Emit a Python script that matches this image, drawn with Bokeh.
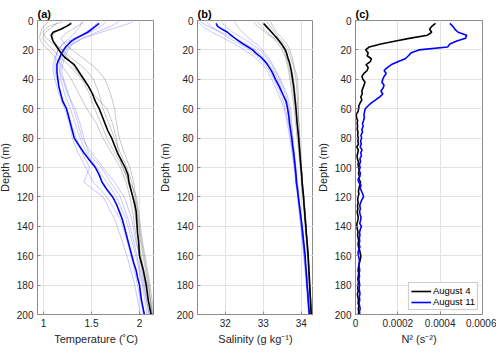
from bokeh.plotting import figure
from bokeh.layouts import row
from bokeh.models import Range1d, FixedTicker, Legend, LegendItem
from bokeh.embed import file_html
from bokeh.resources import INLINE

# ---------------- data ----------------
DEPTH_MEAN = [2, 4, 6, 8, 10, 12, 14, 16, 18, 20, 22, 25, 28, 30, 35, 40, 45, 50, 55, 60,
              65, 70, 75, 80, 85, 90, 95, 100, 105, 110, 115, 120, 125, 130, 135, 140,
              145, 150, 155, 160, 165, 170, 175, 180, 185, 190, 195, 200]

TEMP_AUG4 = [1.29, 1.24, 1.18, 1.10, 1.08, 1.09, 1.10, 1.12, 1.14, 1.16, 1.18, 1.22, 1.28, 1.32,
             1.37, 1.42, 1.47, 1.51, 1.54, 1.58, 1.61, 1.64, 1.67, 1.71, 1.74, 1.77, 1.81, 1.85,
             1.88, 1.89, 1.91, 1.93, 1.95, 1.965, 1.97, 1.975, 1.98, 1.99, 1.995, 2.0, 2.02,
             2.04, 2.055, 2.07, 2.08, 2.09, 2.105, 2.12]
TEMP_AUG11 = [1.58, 1.54, 1.50, 1.46, 1.40, 1.34, 1.29, 1.26, 1.23, 1.21, 1.19, 1.17, 1.15, 1.14,
              1.14, 1.15, 1.16, 1.18, 1.20, 1.24, 1.26, 1.28, 1.30, 1.32, 1.37, 1.42, 1.48, 1.54,
              1.58, 1.61, 1.66, 1.72, 1.76, 1.79, 1.82, 1.84, 1.86, 1.88, 1.90, 1.92, 1.94,
              1.965, 1.98, 2.0, 2.01, 2.02, 2.035, 2.05]
SAL_AUG4 = [33.01, 33.08, 33.15, 33.22, 33.29, 33.36, 33.42, 33.48, 33.53, 33.58, 33.61, 33.64,
            33.68, 33.70, 33.74, 33.77, 33.80, 33.82, 33.84, 33.86, 33.875, 33.89, 33.91, 33.93,
            33.945, 33.96, 33.975, 33.99, 34.01, 34.02, 34.04, 34.06, 34.07, 34.09, 34.10, 34.12,
            34.13, 34.15, 34.165, 34.18, 34.19, 34.20, 34.21, 34.22, 34.23, 34.24, 34.25, 34.26]
SAL_AUG11 = [31.76, 31.80, 31.92, 32.06, 32.15, 32.25, 32.36, 32.47, 32.60, 32.72, 32.80, 32.94,
             33.05, 33.11, 33.23, 33.32, 33.42, 33.51, 33.60, 33.64, 33.67, 33.69, 33.72, 33.75,
             33.77, 33.80, 33.82, 33.84, 33.86, 33.87, 33.90, 33.92, 33.945, 33.97, 33.995, 34.02,
             34.04, 34.06, 34.08, 34.10, 34.11, 34.125, 34.14, 34.15, 34.17, 34.18, 34.195, 34.21]

DEPTH_IND = [1, 4, 8, 12, 16, 20, 25, 30, 35, 40, 50, 60, 70, 80, 90, 100, 110, 120, 135, 150,
             165, 180, 200]

TEMP_CASTS_AUG4 = [
    [1.05, 1.00, 0.97, 0.96, 0.99, 1.05, 1.12, 1.18, 1.24, 1.29, 1.37, 1.45, 1.55, 1.62, 1.71, 1.80, 1.86, 1.90, 1.94, 1.97, 2.01, 2.05, 2.10],
    [1.15, 1.10, 1.02, 0.99, 1.04, 1.10, 1.17, 1.26, 1.33, 1.40, 1.48, 1.53, 1.60, 1.66, 1.74, 1.83, 1.88, 1.93, 1.96, 1.99, 2.03, 2.08, 2.13],
    [1.30, 1.22, 1.12, 1.08, 1.12, 1.20, 1.28, 1.38, 1.46, 1.52, 1.58, 1.62, 1.68, 1.74, 1.80, 1.87, 1.92, 1.95, 1.98, 2.01, 2.05, 2.09, 2.14],
    [1.42, 1.35, 1.25, 1.18, 1.22, 1.30, 1.40, 1.50, 1.58, 1.64, 1.70, 1.74, 1.76, 1.79, 1.84, 1.90, 1.94, 1.96, 1.99, 2.02, 2.06, 2.10, 2.13],
    [1.20, 1.05, 0.99, 1.03, 1.10, 1.18, 1.25, 1.30, 1.35, 1.42, 1.52, 1.66, 1.72, 1.76, 1.78, 1.82, 1.90, 1.97, 2.00, 2.03, 2.07, 2.11, 2.15],
]
TEMP_CASTS_AUG11 = [
    [1.93, 1.80, 1.60, 1.42, 1.30, 1.24, 1.20, 1.18, 1.17, 1.18, 1.22, 1.28, 1.33, 1.38, 1.45, 1.55, 1.66, 1.76, 1.86, 1.92, 1.98, 2.03, 2.08],
    [1.65, 1.60, 1.48, 1.32, 1.20, 1.15, 1.12, 1.10, 1.10, 1.12, 1.16, 1.22, 1.27, 1.30, 1.36, 1.44, 1.52, 1.66, 1.80, 1.87, 1.93, 1.98, 2.04],
    [1.57, 1.52, 1.44, 1.36, 1.28, 1.22, 1.18, 1.16, 1.17, 1.20, 1.25, 1.33, 1.38, 1.42, 1.47, 1.60, 1.70, 1.80, 1.88, 1.94, 1.99, 2.04, 2.10],
    [1.40, 1.38, 1.33, 1.27, 1.20, 1.15, 1.13, 1.12, 1.12, 1.14, 1.18, 1.24, 1.29, 1.34, 1.40, 1.48, 1.42, 1.62, 1.74, 1.82, 1.89, 1.95, 2.01],
    [1.78, 1.70, 1.55, 1.40, 1.30, 1.26, 1.22, 1.20, 1.19, 1.21, 1.26, 1.31, 1.36, 1.40, 1.50, 1.62, 1.74, 1.84, 1.92, 1.96, 2.02, 2.06, 2.12],
]
SAL_CASTS_AUG4 = [
    [32.75, 32.85, 33.05, 33.25, 33.40, 33.50, 33.58, 33.63, 33.67, 33.70, 33.76, 33.81, 33.85, 33.89, 33.93, 33.97, 34.00, 34.04, 34.09, 34.14, 34.18, 34.21, 34.25],
    [33.10, 33.18, 33.30, 33.42, 33.55, 33.65, 33.72, 33.78, 33.82, 33.86, 33.89, 33.91, 33.93, 33.95, 33.97, 34.00, 34.03, 34.06, 34.11, 34.15, 34.19, 34.22, 34.27],
    [32.95, 33.05, 33.20, 33.35, 33.48, 33.58, 33.66, 33.72, 33.76, 33.80, 33.84, 33.87, 33.90, 33.93, 33.96, 33.99, 34.02, 34.05, 34.10, 34.15, 34.19, 34.22, 34.26],
    [33.20, 33.25, 33.35, 33.50, 33.62, 33.70, 33.76, 33.80, 33.85, 33.90, 33.92, 33.92, 33.94, 33.96, 33.98, 34.01, 34.03, 34.07, 34.12, 34.16, 34.20, 34.23, 34.28],
    [32.85, 32.95, 33.10, 33.28, 33.45, 33.55, 33.60, 33.66, 33.70, 33.74, 33.79, 33.84, 33.88, 33.92, 33.95, 33.98, 34.01, 34.04, 34.08, 34.13, 34.17, 34.21, 34.25],
]
SAL_CASTS_AUG11 = [
    [31.28, 31.40, 31.65, 31.95, 32.25, 32.50, 32.78, 32.98, 33.12, 33.22, 33.40, 33.55, 33.63, 33.70, 33.76, 33.81, 33.85, 33.90, 33.96, 34.03, 34.09, 34.14, 34.20],
    [31.35, 31.55, 31.90, 32.25, 32.55, 32.80, 33.00, 33.15, 33.28, 33.38, 33.52, 33.63, 33.69, 33.74, 33.78, 33.83, 33.87, 33.92, 33.98, 34.04, 34.10, 34.15, 34.21],
    [31.90, 32.00, 32.20, 32.45, 32.70, 32.90, 33.08, 33.22, 33.32, 33.42, 33.58, 33.68, 33.72, 33.76, 33.80, 33.85, 33.89, 33.93, 33.99, 34.05, 34.11, 34.16, 34.22],
    [32.25, 32.32, 32.45, 32.62, 32.82, 32.98, 33.12, 33.25, 33.35, 33.45, 33.62, 33.72, 33.75, 33.78, 33.82, 33.86, 33.90, 33.94, 34.00, 34.06, 34.12, 34.17, 34.22],
    [31.50, 31.62, 31.85, 32.10, 32.38, 32.62, 32.88, 33.05, 33.18, 33.28, 33.46, 33.58, 33.66, 33.72, 33.77, 33.82, 33.86, 33.91, 33.97, 34.03, 34.08, 34.13, 34.19],
]

DEPTH_N2 = list(range(2, 201, 2))
N2_AUG4 = [
    3.78e-4, 3.60e-4, 3.50e-4, 3.60e-4, 3.40e-4, 2.60e-4, 1.90e-4, 1.20e-4, 0.65e-4, 0.48e-4,
    0.60e-4, 0.55e-4, 0.75e-4, 0.70e-4, 0.50e-4, 0.60e-4, 0.55e-4, 0.40e-4, 0.30e-4, 0.35e-4,
    0.45e-4, 0.40e-4, 0.35e-4, 0.30e-4, 0.32e-4, 0.25e-4, 0.30e-4, 0.22e-4, 0.16e-4, 0.15e-4,
    0.12e-4, 0.03e-4, 0.05e-4, 0.10e-4, 0.08e-4, 0.10e-4, 0.08e-4, 0.12e-4, 0.10e-4, 0.13e-4,
    0.11e-4, 0.14e-4, 0.06e-4, 0.13e-4, 0.11e-4, 0.07e-4, 0.09e-4, 0.14e-4, 0.12e-4, 0.15e-4,
    0.18e-4, 0.14e-4, 0.19e-4, 0.16e-4, 0.24e-4, 0.20e-4, 0.17e-4, 0.14e-4, 0.16e-4, 0.12e-4,
    0.10e-4, 0.13e-4, 0.09e-4, 0.11e-4, 0.08e-4, 0.10e-4, 0.13e-4, 0.11e-4, 0.07e-4, 0.06e-4,
    0.09e-4, 0.12e-4, 0.10e-4, 0.13e-4, 0.15e-4, 0.12e-4, 0.14e-4, 0.19e-4, 0.22e-4, 0.25e-4,
    0.24e-4, 0.20e-4, 0.16e-4, 0.14e-4, 0.12e-4, 0.15e-4, 0.13e-4, 0.11e-4, 0.14e-4, 0.12e-4,
    0.10e-4, 0.13e-4, 0.09e-4, 0.11e-4, 0.14e-4, 0.12e-4, 0.16e-4, 0.13e-4, 0.15e-4, 0.14e-4,
]
N2_AUG11 = [
    4.46e-4, 4.60e-4, 4.70e-4, 4.85e-4, 5.25e-4, 5.20e-4, 4.78e-4, 4.46e-4, 4.35e-4, 3.00e-4,
    2.63e-4, 2.50e-4, 2.35e-4, 2.00e-4, 1.70e-4, 1.50e-4, 1.35e-4, 1.45e-4, 1.35e-4, 1.29e-4,
    1.25e-4, 1.35e-4, 1.30e-4, 1.20e-4, 1.29e-4, 1.15e-4, 0.95e-4, 0.75e-4, 0.60e-4, 0.46e-4,
    0.43e-4, 0.40e-4, 0.42e-4, 0.38e-4, 0.33e-4, 0.36e-4, 0.30e-4, 0.33e-4, 0.26e-4, 0.29e-4,
    0.24e-4, 0.27e-4, 0.22e-4, 0.31e-4, 0.25e-4, 0.28e-4, 0.21e-4, 0.24e-4, 0.18e-4, 0.22e-4,
    0.17e-4, 0.23e-4, 0.20e-4, 0.12e-4, 0.15e-4, 0.26e-4, 0.22e-4, 0.28e-4, 0.34e-4, 0.38e-4,
    0.30e-4, 0.24e-4, 0.20e-4, 0.23e-4, 0.19e-4, 0.22e-4, 0.26e-4, 0.24e-4, 0.20e-4, 0.28e-4,
    0.23e-4, 0.19e-4, 0.21e-4, 0.18e-4, 0.20e-4, 0.17e-4, 0.21e-4, 0.15e-4, 0.12e-4, 0.14e-4,
    0.17e-4, 0.19e-4, 0.16e-4, 0.18e-4, 0.20e-4, 0.17e-4, 0.19e-4, 0.16e-4, 0.18e-4, 0.20e-4,
    0.17e-4, 0.19e-4, 0.21e-4, 0.18e-4, 0.20e-4, 0.17e-4, 0.19e-4, 0.22e-4, 0.19e-4, 0.20e-4,
]

DEPTH_TICKS = [0, 20, 40, 60, 80, 100, 120, 140, 160, 180, 200]
TEMP_TICKS = [1, 1.5, 2]
SAL_TICKS = [32, 33, 34]
N2_TICKS = [0, 0.0002, 0.0004, 0.0006]
N2_TICK_LABELS = {0: "0", 0.0002: "0.0002", 0.0004: "0.0004", 0.0006: "0.0006"}
SERIES = ["August 4", "August 11"]

# ---------------- styling ----------------
FONT = "Liberation Sans"
TXT = "#262626"
AX = "#8c8c8c"
GRID = "#e3e3e3"
BLACK = "#000000"
BLUE = "#0000ff"


def make_fig(title, xr, xticks, xlabel, left, fw, right):
    p = figure(frame_width=fw, frame_height=294, x_range=Range1d(*xr), y_range=Range1d(200, 0),
               output_backend="svg", toolbar_location=None,
               min_border_left=left, min_border_right=right, min_border_top=20, min_border_bottom=4)
    p.title.text = title
    p.title.text_font = FONT
    p.title.text_font_style = "bold"
    p.title.text_font_size = "11px"
    p.title.text_color = BLACK
    p.title.align = "left"
    p.title.standoff = 2
    p.background_fill_color = "white"
    p.border_fill_color = "white"
    p.outline_line_color = AX
    p.outline_line_width = 1
    for ax in (p.xaxis[0], p.yaxis[0]):
        ax.axis_line_color = AX
        ax.major_tick_line_color = AX
        ax.major_tick_in = 3
        ax.major_tick_out = 0
        ax.minor_tick_line_color = None
        ax.major_label_text_font = FONT
        ax.major_label_text_font_size = "10px"
        ax.major_label_text_color = TXT
        ax.axis_label_text_font = FONT
        ax.axis_label_text_font_size = "11px"
        ax.axis_label_text_font_style = "normal"
        ax.axis_label_text_color = TXT
        ax.major_label_standoff = 4
        ax.axis_label_standoff = 3
    p.xaxis.ticker = FixedTicker(ticks=xticks)
    p.yaxis.ticker = FixedTicker(ticks=DEPTH_TICKS)
    p.xaxis.axis_label = xlabel
    p.yaxis.axis_label = "Depth (m)"
    p.xgrid.ticker = FixedTicker(ticks=xticks)
    p.ygrid.ticker = FixedTicker(ticks=DEPTH_TICKS)
    p.grid.grid_line_color = GRID
    p.grid.grid_line_width = 1
    return p


# (a) temperature
pa = make_fig("(a)", (0.9375, 2.156), TEMP_TICKS, "Temperature (˚C)", 30, 117, 0)
pa.multi_line([c for c in TEMP_CASTS_AUG4], [DEPTH_IND] * len(TEMP_CASTS_AUG4),
              line_color=BLACK, line_alpha=0.28, line_width=0.8)
pa.multi_line([c for c in TEMP_CASTS_AUG11], [DEPTH_IND] * len(TEMP_CASTS_AUG11),
              line_color=BLUE, line_alpha=0.28, line_width=0.8)
pa.line(TEMP_AUG4, DEPTH_MEAN, line_color=BLACK, line_width=1.6)
pa.line(TEMP_AUG11, DEPTH_MEAN, line_color=BLUE, line_width=1.6)

# (b) salinity
pb = make_fig("(b)", (31.27, 34.32), SAL_TICKS, "Salinity (g kg⁻¹)", 43, 116, 0)
pb.multi_line([c for c in SAL_CASTS_AUG4], [DEPTH_IND] * len(SAL_CASTS_AUG4),
              line_color=BLACK, line_alpha=0.28, line_width=0.8)
pb.multi_line([c for c in SAL_CASTS_AUG11], [DEPTH_IND] * len(SAL_CASTS_AUG11),
              line_color=BLUE, line_alpha=0.28, line_width=0.8)
pb.line(SAL_AUG4, DEPTH_MEAN, line_color=BLACK, line_width=1.6)
pb.line(SAL_AUG11, DEPTH_MEAN, line_color=BLUE, line_width=1.6)

# (c) N^2
pc = make_fig("(c)", (0, 0.0006), N2_TICKS, "N² (s⁻²)", 38, 127, 14)
pc.xaxis.major_label_overrides = N2_TICK_LABELS
r1 = pc.line(N2_AUG4, DEPTH_N2, line_color=BLACK, line_width=1.6)
r2 = pc.line(N2_AUG11, DEPTH_N2, line_color=BLUE, line_width=1.6)
legend = Legend(items=[LegendItem(label=SERIES[0], renderers=[r1]),
                       LegendItem(label=SERIES[1], renderers=[r2])],
                location="bottom_right")
legend.label_text_font = FONT
legend.label_text_font_size = "9.5px"
legend.label_text_color = BLACK
legend.border_line_color = "#9a9a9a"
legend.border_line_width = 1
legend.background_fill_alpha = 1
legend.glyph_width = 20
legend.glyph_height = 10
legend.label_height = 10
legend.spacing = 0
legend.padding = 2
legend.margin = 4
legend.label_standoff = 2
pc.add_layout(legend)

layout = row(pa, pb, pc, styles={"margin-left": "-5px"})
open("out.html", "w").write(file_html(layout, INLINE))
